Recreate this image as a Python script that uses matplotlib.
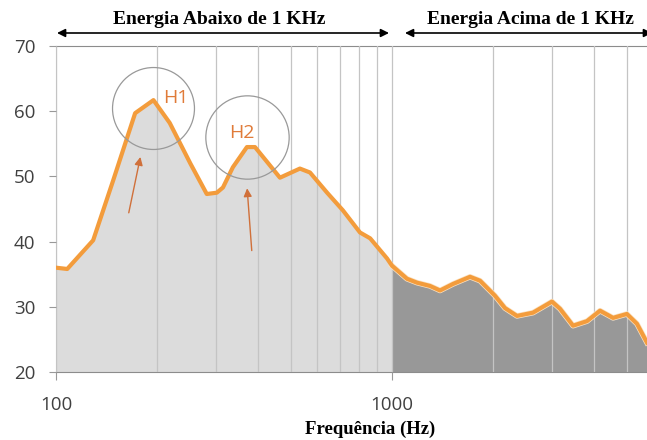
import matplotlib
matplotlib.use('Agg')
import matplotlib.pyplot as plt
from matplotlib.ticker import FixedLocator, NullFormatter
import numpy as np

# espectro (Hz, dB)
freq = [100, 108, 129, 148, 172, 195, 218, 251, 281, 301, 314, 336, 370, 391,
        433, 464, 532, 570, 641, 714, 803, 861, 967, 1000, 1108, 1187, 1297,
        1390, 1519, 1707, 1828, 2025, 2169, 2355, 2628, 2993, 3162, 3458, 3805,
        4160, 4549, 5000, 5358, 5740]
nivel = [36.0, 35.8, 40.2, 49.4, 59.7, 61.7, 58.2, 52.0, 47.3, 47.5, 48.3, 51.4,
         54.5, 54.5, 51.7, 49.8, 51.2, 50.6, 47.5, 44.8, 41.4, 40.5, 37.4, 36.3,
         34.3, 33.7, 33.2, 32.5, 33.5, 34.6, 34.0, 31.7, 29.8, 28.6, 29.1, 30.8,
         29.7, 27.1, 27.8, 29.4, 28.3, 28.9, 27.4, 24.5]
yticks = [20, 30, 40, 50, 60, 70]
xticks = [100, 1000]
picos = ['H1', 'H2']

freq = np.array(freq)
nivel = np.array(nivel)

fig = plt.figure(figsize=(6.47, 4.40), dpi=100)
ax = fig.add_axes([56 / 647, 1 - 372 / 440, 1 - 56 / 647, 326 / 440])

ax.fill_between(freq, nivel, 20, where=freq <= 1000, color='#dcdcdc', lw=0, zorder=1)
ax.fill_between(freq, nivel, 20, where=freq >= 1000, color='#989898', lw=0, zorder=1)
alto = freq >= 1000
ax.plot(freq[alto], nivel[alto], color='#fbe3c4', lw=4, zorder=3)
ax.plot(freq, nivel, color='#f39c3c', lw=3, zorder=3, solid_joinstyle='round')

ax.set_xscale('log')
ax.set_xlim(100, 5740)
ax.set_ylim(20, 70)
ax.xaxis.set_major_locator(FixedLocator(xticks))
ax.xaxis.set_minor_locator(FixedLocator([200, 300, 400, 500, 600, 700, 800, 900,
                                         2000, 3000, 4000, 5000]))
ax.xaxis.set_minor_formatter(NullFormatter())
ax.set_xticklabels([str(t) for t in xticks])
ax.set_yticks(yticks)
ax.tick_params(axis='x', which='minor', length=0)
ax.tick_params(axis='x', which='major', length=6, color='#999999', pad=11,
               labelsize=13.5, labelcolor='#404040')
ax.tick_params(axis='y', length=5, color='#999999', pad=10,
               labelsize=13.5, labelcolor='#404040')
for lab in ax.get_xticklabels() + ax.get_yticklabels():
    lab.set_fontfamily('Open Sans')

ax.set_axisbelow(False)
ax.grid(True, which='both', axis='x', color='#c4c4c4', lw=0.9)
ax.grid(False, axis='y')

ax.spines['right'].set_visible(False)
ax.spines['top'].set_color('#8c8c8c')
ax.spines['bottom'].set_color('#8c8c8c')
ax.spines['left'].set_color('#bdbdbd')

# circulos e rotulos dos picos
ax.plot([194.5], [60.5], 'o', ms=59, mfc='none', mec='#999999', mew=0.9, zorder=4)
ax.plot([370], [56.0], 'o', ms=60, mfc='none', mec='#999999', mew=0.9, zorder=4)
ax.text(227, 62.0, picos[0], color='#e07b39', fontsize=14, ha='center', va='center',
        family='Open Sans', zorder=5)
ax.text(358, 56.6, picos[1], color='#e07b39', fontsize=14, ha='center', va='center',
        family='Open Sans', zorder=5)
ax.annotate('', xy=(179, 53.4), xytext=(164, 44.0),
            arrowprops=dict(arrowstyle='-|>', color='#d0703a', lw=1, mutation_scale=12),
            zorder=5)
ax.annotate('', xy=(370, 48.6), xytext=(383, 38.2),
            arrowprops=dict(arrowstyle='-|>', color='#d0703a', lw=1, mutation_scale=12),
            zorder=5)

# faixas acima/abaixo de 1 kHz
seta = dict(arrowstyle='<|-|>', color='black', lw=1.2, mutation_scale=12,
            shrinkA=0, shrinkB=0)
ax.annotate('', xy=(57, 407), xytext=(389, 407), xycoords='figure pixels',
            textcoords='figure pixels', arrowprops=seta, annotation_clip=False)
ax.annotate('', xy=(405, 407), xytext=(652, 407), xycoords='figure pixels',
            textcoords='figure pixels', arrowprops=seta, annotation_clip=False)
fig.text(219 / 647, 420 / 440, 'Energia Abaixo de 1 KHz', ha='center', va='center',
         family='Liberation Serif', weight='bold', fontsize=14)
fig.text(530 / 647, 420 / 440, 'Energia Acima de 1 KHz', ha='center', va='center',
         family='Liberation Serif', weight='bold', fontsize=14)
fig.text(370 / 647, 11 / 440, 'Frequência (Hz)', ha='center', va='center',
         family='Liberation Serif', weight='bold', fontsize=13.5)

fig.savefig('out.png', dpi=100)
